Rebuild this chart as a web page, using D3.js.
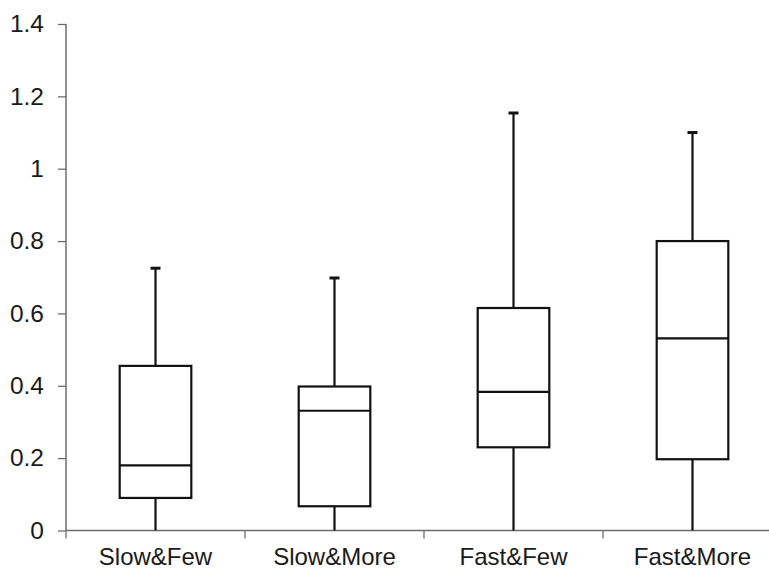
<!DOCTYPE html>
<html>
<head>
<meta charset="utf-8">
<script src="https://cdn.jsdelivr.net/npm/d3@7"></script>
<style>
  body { margin: 0; background: #fff; }
  svg { display: block; }
</style>
</head>
<body>
<div id="chart-area"></div>
<script>
// box plot data
var categories = ["Slow&Few", "Slow&More", "Fast&Few", "Fast&More"];
var whiskerLow  = [0, 0, 0, 0];
var q1Values    = [0.09, 0.067, 0.23, 0.197];
var medians     = [0.18, 0.331, 0.383, 0.531];
var q3Values    = [0.455, 0.398, 0.615, 0.8];
var whiskerHigh = [0.725, 0.698, 1.154, 1.1];
var yTicks      = [0, 0.2, 0.4, 0.6, 0.8, 1, 1.2, 1.4];

var margin = {top: 24, left: 66, right: -13, bottom: 40.5};
var W = 769, H = 571;
var width = W - margin.left - margin.right;
var height = H - margin.top - margin.bottom;

var svg = d3.select("#chart-area").append("svg")
    .attr("width", W)
    .attr("height", H)
  .append("g")
    .attr("transform", "translate(" + margin.left + "," + margin.top + ")");

var x = d3.scaleBand()
    .domain(categories)
    .range([0, width])
    .paddingInner(0)
    .paddingOuter(0);

var y = d3.scaleLinear()
    .domain([0, 1.4])
    .range([height, 0]);

var axisColor = "#6e6e6e";
var font = "Arial, 'Liberation Sans', sans-serif";
var fontSize = "24.5px";

// y axis
var yAxisCall = d3.axisLeft(y)
    .tickValues(yTicks)
    .tickSize(8)
    .tickPadding(14)
    .tickFormat(function(d) { return d; });
var yAxis = svg.append("g").attr("class", "y axis").call(yAxisCall);
yAxis.select(".domain").attr("d", "M0," + height + "V0").attr("stroke", axisColor).attr("stroke-width", 1.5);
yAxis.selectAll(".tick line").attr("stroke", axisColor).attr("stroke-width", 1.3);
yAxis.selectAll("text")
    .attr("font-size", fontSize)
    .attr("font-family", font)
    .attr("fill", "#1a1a1a");

// x axis, ticks at category boundaries
var xAxis = svg.append("g")
    .attr("class", "x axis")
    .attr("transform", "translate(0," + height + ")");
xAxis.append("line")
    .attr("x1", 0).attr("x2", width)
    .attr("stroke", axisColor).attr("stroke-width", 1.5);
xAxis.selectAll(".bound")
    .data(categories)
    .enter().append("line")
    .attr("class", "bound")
    .attr("x1", function(d) { return x(d); })
    .attr("x2", function(d) { return x(d); })
    .attr("y1", 0).attr("y2", 8)
    .attr("stroke", axisColor).attr("stroke-width", 1.3);
xAxis.selectAll(".xlabel")
    .data(categories)
    .enter().append("text")
    .attr("class", "xlabel")
    .attr("x", function(d) { return x(d) + x.bandwidth() / 2; })
    .attr("y", 34.5)
    .attr("text-anchor", "middle")
    .attr("font-size", "24px")
    .attr("font-family", font)
    .attr("fill", "#1a1a1a")
    .text(function(d) { return d; });

// boxes
var boxW = x.bandwidth() * 0.4;
var boxes = svg.selectAll(".box")
    .data(categories)
    .enter().append("g")
    .attr("class", "box")
    .attr("transform", function(d) { return "translate(" + (x(d) + x.bandwidth() / 2) + ",0)"; });

boxes.append("line")
    .attr("x1", 0).attr("x2", 0)
    .attr("y1", function(d, i) { return y(whiskerHigh[i]); })
    .attr("y2", function(d, i) { return y(q3Values[i]); })
    .attr("stroke", "#111").attr("stroke-width", 2.2);

boxes.append("line")
    .attr("x1", -5).attr("x2", 5)
    .attr("y1", function(d, i) { return y(whiskerHigh[i]); })
    .attr("y2", function(d, i) { return y(whiskerHigh[i]); })
    .attr("stroke", "#111").attr("stroke-width", 3);

boxes.append("line")
    .attr("x1", 0).attr("x2", 0)
    .attr("y1", function(d, i) { return y(q1Values[i]); })
    .attr("y2", function(d, i) { return y(whiskerLow[i]); })
    .attr("stroke", "#111").attr("stroke-width", 2.2);

boxes.append("rect")
    .attr("x", -boxW / 2)
    .attr("width", boxW)
    .attr("y", function(d, i) { return y(q3Values[i]); })
    .attr("height", function(d, i) { return y(q1Values[i]) - y(q3Values[i]); })
    .attr("fill", "none")
    .attr("stroke", "#111").attr("stroke-width", 2.2);

boxes.append("line")
    .attr("x1", -boxW / 2).attr("x2", boxW / 2)
    .attr("y1", function(d, i) { return y(medians[i]); })
    .attr("y2", function(d, i) { return y(medians[i]); })
    .attr("stroke", "#111").attr("stroke-width", 2.2);
</script>
</body>
</html>
